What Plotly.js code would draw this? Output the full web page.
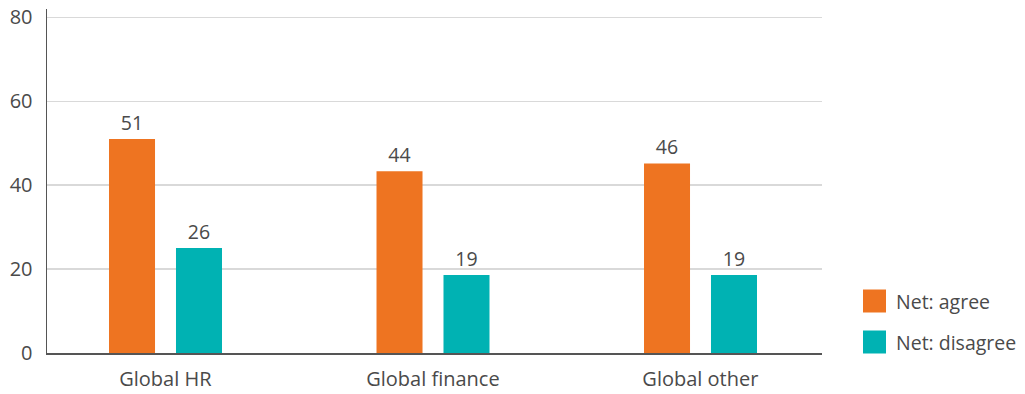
<!DOCTYPE html>
<html>
<head>
<meta charset="utf-8">
<script src="https://cdn.plot.ly/plotly-3.0.1.min.js"></script>
<style>html,body{margin:0;padding:0;background:#fff;}#chart{width:1025px;height:394px;}</style>
</head>
<body>
<div id="chart"></div>
<script>
const categories = ["Global HR", "Global finance", "Global other"];
const seriesNames = ["Net: agree", "Net: disagree"];
const agreeValues = [51, 43.3, 45.2];
const disagreeValues = [25, 18.6, 18.6];
const agreeLabels = ["51", "44", "46"];
const disagreeLabels = ["26", "19", "19"];
const yTicks = [0, 20, 40, 60, 80];

const colors = ["#EE7421", "#00B2B3"];
const textColor = "#4a4a4a";
const font = "'Open Sans', Roboto, sans-serif";

const traces = [
  {type: "bar", name: seriesNames[0], x: categories, y: agreeValues, text: agreeLabels,
   textposition: "outside", cliponaxis: false, width: 0.172, offset: -0.2108,
   marker: {color: colors[0]}, textfont: {size: 19.5, color: textColor, family: font}, hoverinfo: "skip"},
  {type: "bar", name: seriesNames[1], x: categories, y: disagreeValues, text: disagreeLabels,
   textposition: "outside", cliponaxis: false, width: 0.172, offset: 0.0396,
   marker: {color: colors[1]}, textfont: {size: 19.5, color: textColor, family: font}, hoverinfo: "skip"}
];

const shapes = [];
const annotations = [];
seriesNames.forEach((n, i) => {
  const yc = 301 + i * 41; // px from top
  shapes.push({type: "rect", xref: "paper", yref: "paper",
    x0: (863 - 47) / 775, x1: (886 - 47) / 775,
    y0: (353 - (yc + 11.5)) / 344, y1: (353 - (yc - 11.5)) / 344,
    fillcolor: colors[i], line: {width: 0}});
  annotations.push({xref: "paper", yref: "paper", x: (894 - 47) / 775, y: (353 - yc) / 344,
    xanchor: "left", yanchor: "middle", text: n, showarrow: false,
    font: {size: 19.5, color: textColor, family: font}});
});

const layout = {
  width: 1025, height: 394,
  margin: {l: 47, r: 203, t: 9, b: 41, pad: 0},
  paper_bgcolor: "#fff", plot_bgcolor: "#fff",
  showlegend: false,
  font: {family: font, color: textColor, size: 18},
  xaxis: {type: "category", range: [-0.4426, 2.4546], showgrid: false, zeroline: false,
    showline: true, linecolor: "#555", linewidth: 1.5, ticks: "", ticklabelstandoff: 7,
    tickfont: {size: 20, color: textColor}},
  yaxis: {range: [0, 82], tickvals: yTicks, ticktext: yTicks.map(String), showgrid: true,
    gridcolor: "#d9d9d9", gridwidth: 1.5, zeroline: false, showline: true, linecolor: "#555", linewidth: 1.5,
    ticks: "", ticklabelstandoff: 9, tickfont: {size: 20, color: textColor}},
  shapes: shapes, annotations: annotations
};

Plotly.newPlot("chart", traces, layout, {displayModeBar: false, staticPlot: true});
</script>
</body>
</html>
